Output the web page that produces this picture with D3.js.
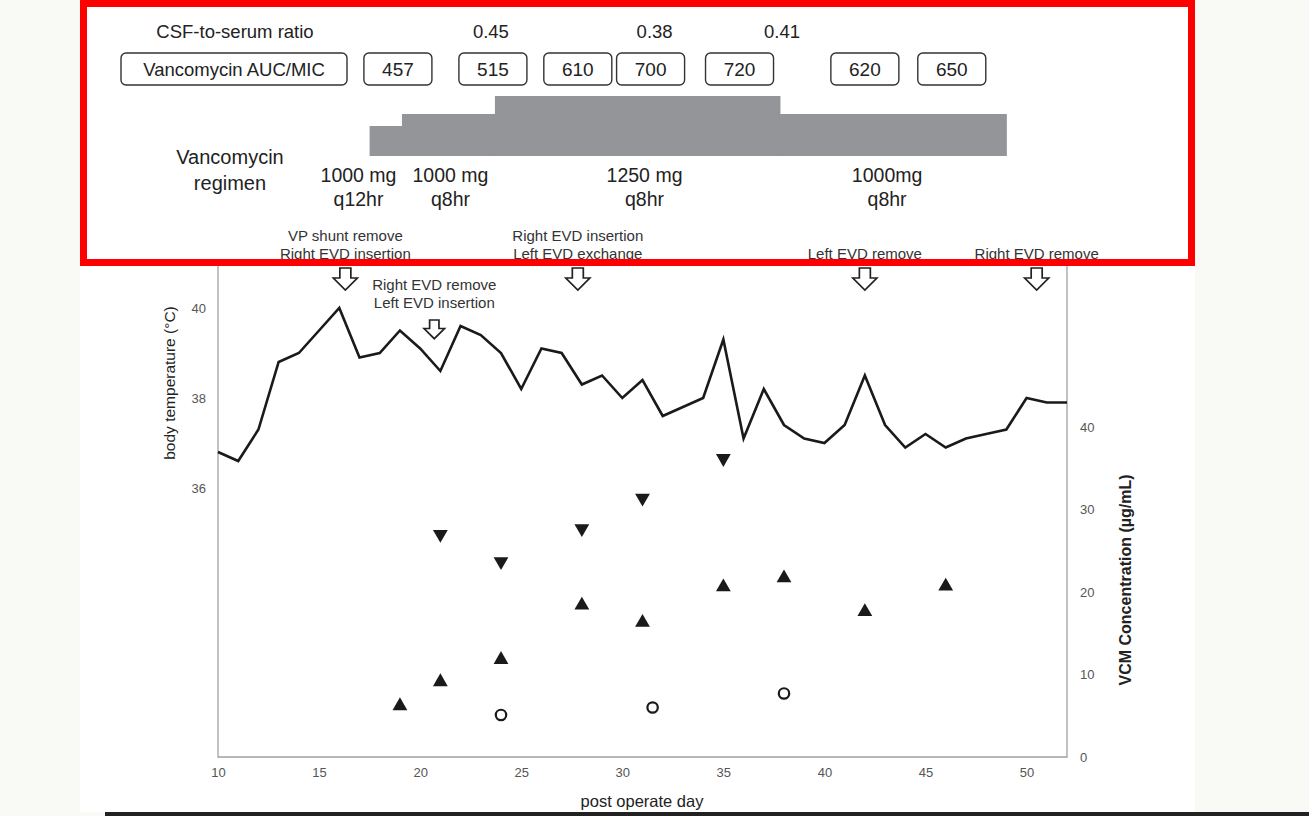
<!DOCTYPE html>
<html>
<head>
<meta charset="utf-8">
<script src="https://cdn.jsdelivr.net/npm/d3@7"></script>
<style>
body { margin: 0; background: #f9f9f5; }
svg { display: block; font-family: "Liberation Sans", Arial, sans-serif; }
</style>
</head>
<body>
<svg id="chart" width="1309" height="816"></svg>
<script>
// body temperature, one reading per post operative day
var tempDays = [10, 11, 12, 13, 14, 15, 16, 17, 18, 19, 20, 21, 22, 23, 24, 25, 26, 27, 28, 29, 30,
	31, 32, 33, 34, 35, 36, 37, 38, 39, 40, 41, 42, 43, 44, 45, 46, 47, 48, 49, 50, 51, 52];
var tempVals = [36.8, 36.6, 37.3, 38.8, 39.0, 39.5, 40.0, 38.9, 39.0, 39.5, 39.1, 38.6, 39.6, 39.4, 39.0, 38.2, 39.1, 39.0, 38.3, 38.5, 38.0,
	38.4, 37.6, 37.8, 38.0, 39.3, 37.1, 38.2, 37.4, 37.1, 37.0, 37.4, 38.5, 37.4, 36.9, 37.2, 36.9, 37.1, 37.2, 37.3, 38.0, 37.9, 37.9];

// vancomycin concentrations (ug/mL)
var peakDays = [21, 24, 28, 31, 35];
var peakVals = [27.0, 23.7, 27.7, 31.4, 36.2];
var troughDays = [19, 21, 24, 28, 31, 35, 38, 42, 46];
var troughVals = [6.2, 9.1, 11.8, 18.4, 16.3, 20.6, 21.7, 17.6, 20.7];
var csfDays = [24, 31.5, 38];
var csfVals = [5.1, 6.0, 7.7];

// header rows
var ratioDays = [23.5, 31.6, 37.9];
var ratioVals = ["0.45", "0.38", "0.41"];
var aucDays = [18.9, 23.6, 27.8, 31.4, 35.8, 42, 46.3];
var aucVals = [457, 515, 610, 700, 720, 620, 650];

// vancomycin regimen
var regStart = [17.5, 19.1, 23.7, 37.8];
var regEnd = [19.1, 23.7, 37.8, 49];
var regDose = [1000, 1000, 1250, 1000];
var regInterval = [12, 8, 8, 8];
var regLabelDays = [16.95, 21.5, 31.1, 43.1];
var regLine1 = ["1000 mg", "1000 mg", "1250 mg", "1000mg"];
var regLine2 = ["q12hr", "q8hr", "q8hr", "q8hr"];

// procedures
var eventDays = [16.3, 20.7, 27.8, 42, 50.5];
var eventText = [
	["VP shunt remove", "Right EVD insertion"],
	["Right EVD remove", "Left EVD insertion"],
	["Right EVD insertion", "Left EVD exchange"],
	["Left EVD remove"],
	["Right EVD remove"]
];
var eventRow = [0, 1, 0, 0, 0];

var xTicks = [10, 15, 20, 25, 30, 35, 40, 45, 50];
var tempTicks = [36, 38, 40];
var concTicks = [0, 10, 20, 30, 40];

var pLeft = 218, pRight = 1067, pBottom = 757, pTop = 263;

var svg = d3.select("#chart");

// page white area and screen strip
svg.append("rect").attr("x", 80).attr("y", 0).attr("width", 1115).attr("height", 812).attr("fill", "#fff");
svg.append("rect").attr("x", 105).attr("y", 812).attr("width", 1204).attr("height", 4).attr("fill", "#222");

var xScale = d3.scaleLinear().domain([10, 52]).range([pLeft, pRight]);
var tScale = d3.scaleLinear().domain([30, 41]).range([pBottom + 1, pTop]);
var cScale = d3.scaleLinear().domain([0, 40]).range([pBottom, 427]);
var doseScale = d3.scaleLinear().domain([0, 2000, 3000, 3750]).range([0, 30, 42, 60]);

// frame
svg.append("path")
	.attr("d", "M" + pLeft + "," + pTop + "V" + pBottom + "H" + pRight + "V" + pTop)
	.attr("fill", "none").attr("stroke", "#a0a0a0").attr("stroke-width", 1.3);

var gx = svg.append("g").attr("transform", "translate(0," + pBottom + ")")
	.call(d3.axisBottom(xScale).tickValues(xTicks).tickSize(0).tickPadding(11));
var gl = svg.append("g").attr("transform", "translate(" + pLeft + ",0)")
	.call(d3.axisLeft(tScale).tickValues(tempTicks).tickSize(0).tickPadding(12));
var gr = svg.append("g").attr("transform", "translate(" + pRight + ",0)")
	.call(d3.axisRight(cScale).tickValues(concTicks).tickSize(0).tickPadding(13));
[gx, gl, gr].forEach(function(g) {
	g.select(".domain").remove();
	g.selectAll("text").attr("font-size", 13).attr("fill", "#555")
		.attr("font-family", "Liberation Sans, Arial, sans-serif");
});

// axis titles
svg.append("text").attr("x", 642).attr("y", 807).attr("text-anchor", "middle")
	.attr("font-size", 16.5).attr("fill", "#222").text("post operate day");
svg.append("text").attr("transform", "translate(175,383) rotate(-90)").attr("text-anchor", "middle")
	.attr("font-size", 15.5).attr("fill", "#222").text("body temperature (°C)");
svg.append("text").attr("transform", "translate(1131,580) rotate(-90)").attr("text-anchor", "middle")
	.attr("font-size", 16).attr("font-weight", "bold").attr("fill", "#222").text("VCM Concentration (µg/mL)");

// temperature line
var line = d3.line()
	.x(function(d, i) { return xScale(tempDays[i]); })
	.y(function(d) { return tScale(d); });
svg.append("path").datum(tempVals).attr("d", line)
	.attr("fill", "none").attr("stroke", "#1a1a1a").attr("stroke-width", 2.6).attr("stroke-linejoin", "miter");

// concentration markers
var tri = d3.symbol().type(d3.symbolTriangle).size(95);
svg.append("g").selectAll("path").data(peakVals).enter().append("path")
	.attr("d", tri)
	.attr("transform", function(d, i) { return "translate(" + xScale(peakDays[i]) + "," + cScale(d) + ") rotate(180)"; })
	.attr("fill", "#1a1a1a");
svg.append("g").selectAll("path").data(troughVals).enter().append("path")
	.attr("d", tri)
	.attr("transform", function(d, i) { return "translate(" + xScale(troughDays[i]) + "," + cScale(d) + ")"; })
	.attr("fill", "#1a1a1a");
svg.append("g").selectAll("circle").data(csfVals).enter().append("circle")
	.attr("cx", function(d, i) { return xScale(csfDays[i]); })
	.attr("cy", function(d) { return cScale(d); })
	.attr("r", 5.2).attr("fill", "#fff").attr("stroke", "#1a1a1a").attr("stroke-width", 2.2);

// procedure arrows and labels
function arrowPath(cx, y0, s) {
	var sw = 5.5 * s, hw = 12 * s, h1 = 10 * s, h = 22 * s;
	return "M" + (cx - sw) + "," + y0 + "H" + (cx + sw) + "V" + (y0 + h1) + "H" + (cx + hw) +
		"L" + cx + "," + (y0 + h) + "L" + (cx - hw) + "," + (y0 + h1) + "H" + (cx - sw) + "Z";
}
eventDays.forEach(function(day, i) {
	var cx = xScale(day);
	var off = eventRow[i] * 49;
	var lines = eventText[i];
	lines.forEach(function(t, j) {
		svg.append("text").attr("x", cx).attr("y", 259 + off - (lines.length - 1 - j) * 18)
			.attr("text-anchor", "middle").attr("font-size", 15).attr("fill", "#333").text(t);
	});
	svg.append("path").attr("d", arrowPath(cx, 268 + off + eventRow[i] * 3, eventRow[i] ? 0.85 : 1))
		.attr("fill", "#fff").attr("stroke", "#222").attr("stroke-width", 1.7).attr("stroke-linejoin", "miter");
});

// header: CSF-to-serum ratio
svg.append("text").attr("x", 235).attr("y", 38).attr("text-anchor", "middle")
	.attr("font-size", 18.5).attr("fill", "#222").text("CSF-to-serum ratio");
svg.append("g").selectAll("text").data(ratioVals).enter().append("text")
	.attr("x", function(d, i) { return xScale(ratioDays[i]); })
	.attr("y", 38).attr("text-anchor", "middle").attr("font-size", 18.5).attr("fill", "#222")
	.text(function(d) { return d; });

// header: AUC/MIC boxes
svg.append("rect").attr("x", 121).attr("y", 53).attr("width", 226).attr("height", 32).attr("rx", 5)
	.attr("fill", "#fff").attr("stroke", "#333").attr("stroke-width", 1.4);
svg.append("text").attr("x", 234).attr("y", 76).attr("text-anchor", "middle")
	.attr("font-size", 18.5).attr("fill", "#222").text("Vancomycin AUC/MIC");
var aucG = svg.append("g").selectAll("g").data(aucVals).enter().append("g")
	.attr("transform", function(d, i) { return "translate(" + xScale(aucDays[i]) + ",0)"; });
aucG.append("rect").attr("x", -34).attr("y", 53).attr("width", 68).attr("height", 32).attr("rx", 5)
	.attr("fill", "#fff").attr("stroke", "#333").attr("stroke-width", 1.4);
aucG.append("text").attr("x", 0).attr("y", 76).attr("text-anchor", "middle")
	.attr("font-size", 19).attr("fill", "#222").text(function(d) { return d; });

// header: regimen bars (height = daily dose)
svg.append("g").selectAll("rect").data(regDose).enter().append("rect")
	.attr("x", function(d, i) { return xScale(regStart[i]); })
	.attr("width", function(d, i) { return xScale(regEnd[i]) - xScale(regStart[i]) + 0.5; })
	.attr("y", function(d, i) { return 156 - doseScale(d * 24 / regInterval[i]); })
	.attr("height", function(d, i) { return doseScale(d * 24 / regInterval[i]); })
	.attr("fill", "#939598");

svg.append("text").attr("x", 230).attr("y", 164).attr("text-anchor", "middle")
	.attr("font-size", 20).attr("fill", "#222").text("Vancomycin");
svg.append("text").attr("x", 230).attr("y", 190).attr("text-anchor", "middle")
	.attr("font-size", 20).attr("fill", "#222").text("regimen");
var regG = svg.append("g").selectAll("g").data(regLine1).enter().append("g")
	.attr("transform", function(d, i) { return "translate(" + xScale(regLabelDays[i]) + ",0)"; });
regG.append("text").attr("y", 182).attr("text-anchor", "middle").attr("font-size", 19.5).attr("fill", "#222")
	.text(function(d) { return d; });
regG.append("text").attr("y", 206).attr("text-anchor", "middle").attr("font-size", 19.5).attr("fill", "#222")
	.text(function(d, i) { return regLine2[i]; });

// red highlight box
svg.append("rect").attr("x", 83.5).attr("y", 3.5).attr("width", 1108).attr("height", 259)
	.attr("fill", "none").attr("stroke", "#f00").attr("stroke-width", 7);
</script>
</body>
</html>
